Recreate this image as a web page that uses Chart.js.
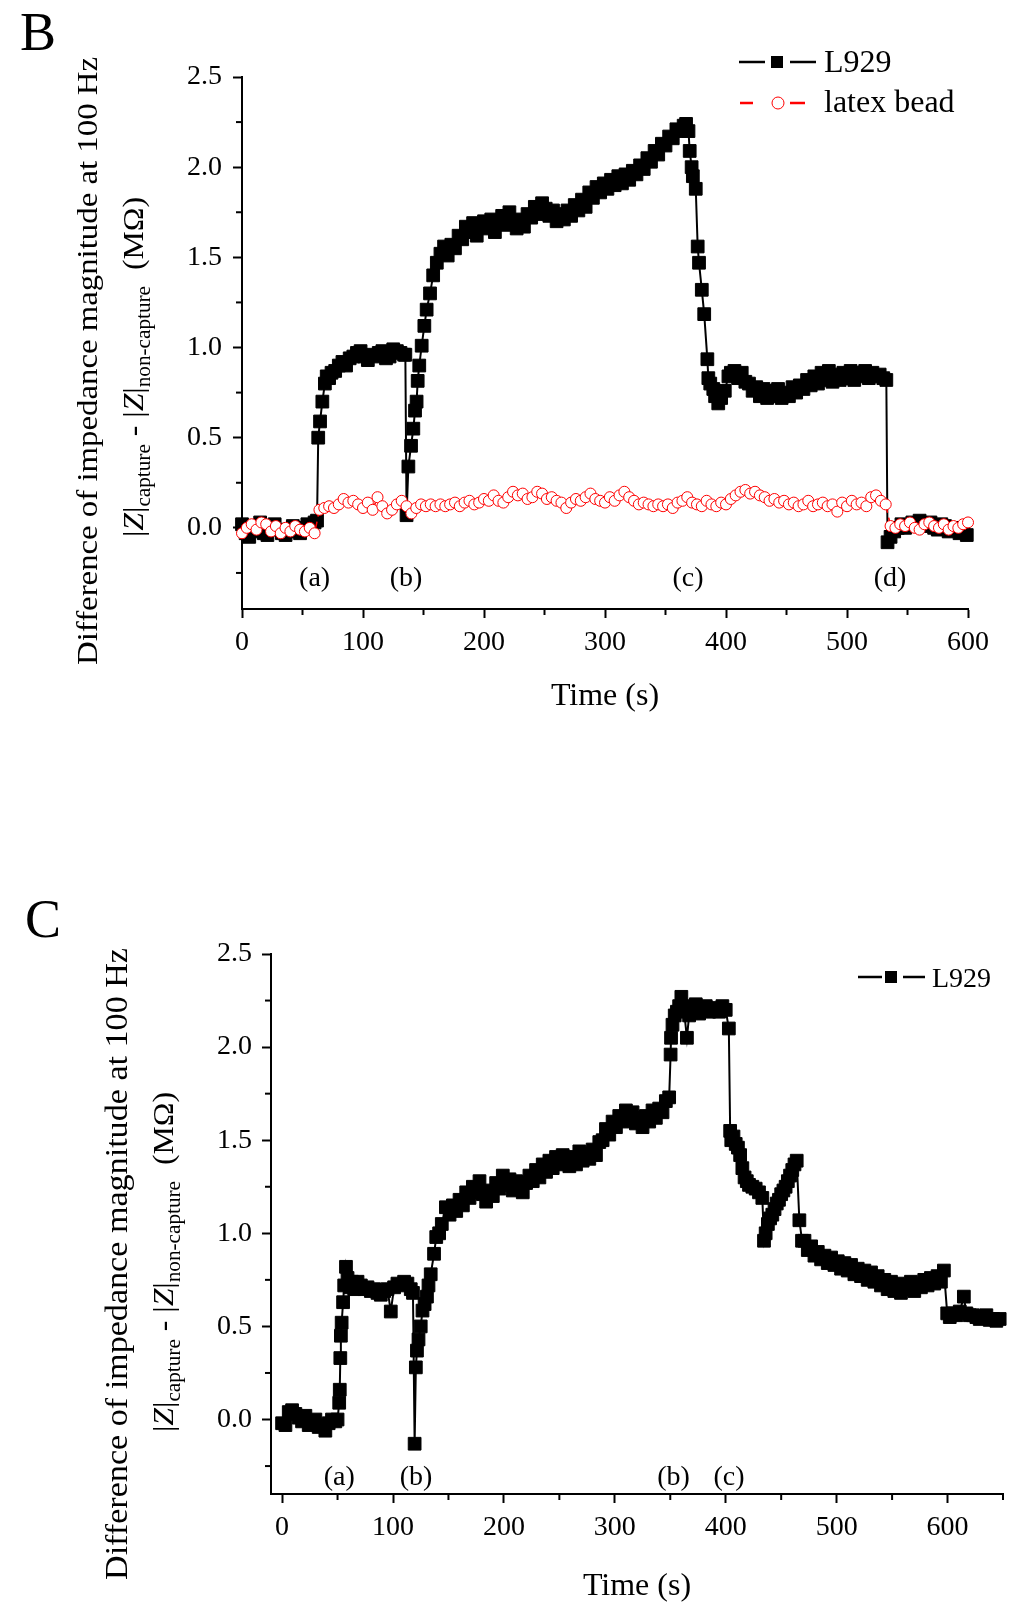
<!DOCTYPE html>
<html>
<head>
<meta charset="utf-8">
<script src="https://cdn.jsdelivr.net/npm/chart.js@4"></script>
<style>
  body { margin: 0; background: #fff; width: 1024px; height: 1610px; overflow: hidden; }
  canvas { position: absolute; left: 0; }
  #chartB { top: 0; }
  #chartC { top: 820px; }
</style>
</head>
<body>
<canvas id="chartB" width="1024" height="760"></canvas>
<canvas id="chartC" width="1024" height="790"></canvas>
<script>
// ---- panel B : L929 (s, MOhm)
var timeB = [0,3,6,9,12,15,18,21,24,27,30,33,36,39,42,45,48,51,54,57,60,
  62,63,64.5,66.4,68.5,70,72,74,77,80,83,86,89,92,95,98,101,104,107,110,113,116,119,122,125,128,131,134,135,
  136,137.5,139.7,141.6,143,144.3,145.2,146.5,148.5,150.7,152.6,155.4,158,161,
  164,167,170,173,176,179,182,185,188,191,194,197,200,203,206,209,212,215,218,221,224,227,230,233,236,239,
  242,245,248,251,254,257,260,263,266,269,272,275,278,281,284,287,290,293,296,299,302,305,308,311,314,317,
  320,323,326,329,332,335,338,341,344,347,350,353,356,359,362,365,
  367,369,370,371.6,372.6,375,
  376.6,377.7,380,382,384.6,385.4,387,389.5,391,393.6,396,399,
  402,404,407,410,413,416,419,422,425,428,431,434,437,440,443,446,449,452,455,458,461,464,467,470,473,476,
  479,482,485,488,491,494,497,500,503,506,509,512,515,518,521,524,527,530,
  532.5,533.5,
  536,539,542,545,548,551,554,557,560,563,566,569,572,575,578,581,584,587,590,593,596,599];
var l929B = [0.02,-0.03,-0.05,-0.02,0.01,0.03,-0.03,-0.04,0.0,0.02,-0.01,-0.03,-0.04,-0.01,0.01,-0.02,-0.03,0.0,0.02,0.01,0.03,
  0.04,0.50,0.59,0.70,0.80,0.84,0.83,0.86,0.87,0.90,0.92,0.90,0.94,0.95,0.97,0.98,0.95,0.93,0.96,0.95,0.97,0.98,0.94,0.95,0.99,0.98,0.97,0.96,0.96,
  0.07,0.34,0.455,0.55,0.65,0.70,0.815,0.90,1.01,1.12,1.21,1.30,1.40,1.47,
  1.52,1.56,1.51,1.57,1.55,1.62,1.60,1.67,1.64,1.69,1.62,1.67,1.70,1.66,1.71,1.64,1.69,1.73,1.68,1.75,1.69,1.66,1.71,1.67,1.74,1.72,
  1.78,1.74,1.80,1.77,1.73,1.76,1.70,1.74,1.71,1.76,1.73,1.79,1.76,1.82,1.78,1.86,1.83,1.89,1.86,1.91,1.88,1.93,1.90,1.95,1.91,1.96,
  1.93,1.98,1.96,2.01,1.99,2.05,2.03,2.09,2.07,2.13,2.12,2.17,2.16,2.21,2.20,2.23,
  2.24,2.20,2.09,2.00,1.95,1.88,
  1.56,1.47,1.32,1.185,0.935,0.83,0.80,0.77,0.73,0.69,0.72,0.76,
  0.84,0.86,0.87,0.83,0.86,0.81,0.80,0.76,0.78,0.73,0.77,0.72,0.76,0.73,0.77,0.72,0.75,0.73,0.78,0.75,0.79,0.77,0.82,0.79,0.84,0.80,
  0.86,0.82,0.87,0.81,0.85,0.82,0.86,0.83,0.87,0.82,0.86,0.84,0.87,0.83,0.86,0.84,0.85,0.83,
  0.82,-0.08,
  -0.05,-0.02,0.0,0.02,0.0,0.01,0.03,0.02,0.04,0.02,0.01,0.03,0.0,-0.01,0.02,0.01,-0.02,0.0,-0.01,-0.03,-0.02,-0.04];

// ---- panel B : latex bead
var timeLatex = [0,4,8,12,16,20,24,28,32,36,40,44,48,52,56,60,64,68,72,76,80,84,88,92,96,100,
  104,108,112,116,120,124,128,132,136,140,144,148,152,156,160,164,168,172,176,180,184,188,192,196,200,
  204,208,212,216,220,224,228,232,236,240,244,248,252,256,260,264,268,272,276,280,284,288,292,296,300,
  304,308,312,316,320,324,328,332,336,340,344,348,352,356,360,364,368,372,376,380,384,388,392,396,400,
  404,408,412,416,420,424,428,432,436,440,444,448,452,456,460,464,468,472,476,480,484,488,492,496,500,
  504,508,512,516,520,524,528,532,536,540,544,548,552,556,560,564,568,572,576,580,584,588,592,596,600];
var latexB = [-0.03,0.0,0.02,-0.01,0.03,0.02,-0.02,0.01,-0.03,0.0,-0.02,0.01,-0.01,-0.02,0.0,-0.03,0.10,0.11,0.12,0.11,0.13,0.16,0.14,0.15,0.13,0.11,
  0.14,0.10,0.17,0.12,0.08,0.10,0.13,0.15,0.12,0.08,0.11,0.13,0.12,0.13,0.12,0.13,0.12,0.13,0.14,0.12,0.14,0.15,0.13,0.14,0.16,
  0.15,0.18,0.15,0.14,0.17,0.20,0.18,0.19,0.16,0.17,0.20,0.19,0.16,0.17,0.15,0.14,0.11,0.14,0.16,0.15,0.17,0.19,0.16,0.15,0.14,
  0.17,0.15,0.18,0.20,0.17,0.15,0.13,0.14,0.13,0.12,0.13,0.12,0.13,0.11,0.14,0.15,0.17,0.14,0.13,0.12,0.15,0.13,0.12,0.14,0.13,
  0.16,0.18,0.20,0.21,0.19,0.20,0.18,0.17,0.15,0.16,0.14,0.15,0.13,0.14,0.12,0.13,0.15,0.12,0.13,0.14,0.12,0.13,0.09,0.14,0.12,
  0.15,0.13,0.14,0.12,0.17,0.18,0.15,0.13,0.01,0.0,0.02,0.01,0.03,0.0,-0.01,0.02,0.03,0.01,0.0,0.02,-0.01,0.01,0.0,0.02,0.03];

// ---- panel C : L929
var timeC = [0,3,6,9,12,15,18,21,24,27,30,33,36,39,42,45,48,50,
  51.5,52,52.5,53,53.7,55,56,57.6,59,61,63,65,68,71,74,77,80,83,86,89,92,95,98,101,104,107,110,113,116,118,
  119.5,120.6,121.6,123,125,126.6,128.5,130.6,132,134,137,139,141.6,144,147.7,
  151,154,157,160,163,166,169,172,175,178,181,184,187,190,193,196,199,202,205,208,211,214,217,220,223,226,
  229,232,235,238,241,244,247,250,253,256,259,262,265,268,271,274,277,280,283,286,289,292,295,298,301,304,
  307,310,313,316,319,322,325,328,331,334,337,340,343,346,349,
  350.3,350.7,352,354,356,358,360,362,365,367,370,373,376,379,382,385,388,391,394,397,400,402.8,
  404,405,407,409,411,413,415,417,419,421,424,427,430,433,
  434.5,436,438,440,442,444,446,448,450,452,454,456,458,460,462,464,
  466.4,468.8,471,474,477,480,483,486,489,492,495,498,501,504,507,510,513,516,519,522,525,528,531,534,537,
  540,543,546,549,552,555,558,561,564,567,570,573,576,579,582,585,588,591,594,596.7,
  599.7,602,605,608,611,614.7,617,620,623,626,629,632,635,638,641,644,647];
var l929C = [-0.02,-0.03,0.04,0.05,0.03,0.01,-0.01,0.02,-0.03,-0.02,0.0,-0.04,-0.03,-0.06,-0.02,0.0,-0.01,0.0,
  0.09,0.16,0.33,0.45,0.52,0.63,0.72,0.82,0.76,0.71,0.74,0.70,0.74,0.72,0.70,0.71,0.69,0.70,0.68,0.67,0.69,0.70,0.58,0.71,0.73,0.72,0.74,0.73,0.70,0.68,
  -0.13,0.28,0.37,0.43,0.50,0.585,0.62,0.66,0.72,0.78,0.89,0.98,1.00,1.05,1.14,
  1.10,1.15,1.12,1.18,1.15,1.22,1.19,1.25,1.22,1.28,1.21,1.17,1.23,1.20,1.27,1.24,1.31,1.26,1.29,1.23,1.28,1.24,1.22,1.27,1.31,1.28,
  1.34,1.30,1.37,1.33,1.39,1.35,1.41,1.37,1.42,1.38,1.36,1.41,1.37,1.44,1.39,1.43,1.40,1.45,1.42,1.49,1.50,1.56,1.53,1.60,1.57,1.63,
  1.60,1.66,1.61,1.65,1.59,1.62,1.57,1.63,1.60,1.66,1.62,1.67,1.65,1.71,1.73,
  1.96,2.05,2.12,2.17,2.19,2.22,2.27,2.22,2.05,2.17,2.19,2.23,2.18,2.21,2.22,2.19,2.20,2.21,2.19,2.22,2.20,2.10,
  1.55,1.50,1.52,1.48,1.46,1.42,1.35,1.30,1.28,1.26,1.25,1.24,1.22,1.19,
  0.96,1.00,1.05,1.08,1.10,1.13,1.16,1.18,1.21,1.23,1.25,1.28,1.31,1.34,1.37,1.39,
  1.07,0.96,0.96,0.91,0.93,0.88,0.90,0.86,0.88,0.84,0.87,0.83,0.85,0.81,0.84,0.80,0.83,0.78,0.81,0.77,0.80,0.75,0.79,0.74,0.77,
  0.72,0.75,0.70,0.74,0.69,0.73,0.68,0.72,0.70,0.74,0.69,0.73,0.71,0.75,0.72,0.76,0.73,0.77,0.74,0.80,
  0.57,0.55,0.57,0.56,0.58,0.66,0.57,0.56,0.56,0.55,0.54,0.55,0.56,0.535,0.54,0.53,0.54];

// ticks
var xTicksB = [0, 100, 200, 300, 400, 500, 600];
var xMinorB = [50, 150, 250, 350, 450, 550];
var xTicksC = [0, 100, 200, 300, 400, 500, 600];
var xMinorC = [50, 150, 250, 350, 450, 550, 650];
var yTicks = [0, 0.5, 1.0, 1.5, 2.0, 2.5];
var yMinor = [-0.25, 0.25, 0.75, 1.25, 1.75, 2.25];

// event marks under the curves
var marksB = ['(a)', '(b)', '(c)', '(d)'];
var marksBTime = [60, 135.5, 368.6, 535.5];
var marksC = ['(a)', '(b)', '(b)', '(c)'];
var marksCTime = [51.6, 120.7, 353, 403];

var SERIF = '"Liberation Serif", "Times New Roman", serif';
Chart.defaults.font.family = SERIF;
Chart.defaults.color = '#000';

function pts(xs, ys) {
  return xs.map(function (t, i) { return { x: t, y: ys[i] }; });
}

function fixSize(w, h) {
  return function (scale) {
    if (w) scale.width = w;
    if (h) scale.height = h;
  };
}

function useTicks(list) {
  return function (scale) {
    scale.ticks = list.map(function (v) { return { value: v }; });
  };
}

// rotated text built from pieces (for subscripts), stretched to a given length
function drawRich(ctx, segs, x, y, len) {
  var total = 0;
  segs.forEach(function (s) { ctx.font = s.font; s.w = ctx.measureText(s.text).width; total += s.w; });
  ctx.save();
  ctx.translate(x, y);
  ctx.rotate(-Math.PI / 2);
  if (len) ctx.scale(len / total, 1);
  ctx.textAlign = 'left';
  ctx.textBaseline = 'alphabetic';
  ctx.fillStyle = '#000';
  var cx = -total / 2;
  segs.forEach(function (s) {
    ctx.font = s.font;
    ctx.fillText(s.text, cx, s.dy || 0);
    cx += s.w;
  });
  ctx.restore();
}

function yTitleSegs(size) {
  var main = size + 'px ' + SERIF, ital = 'italic ' + size + 'px ' + SERIF, sub = '20px ' + SERIF;
  return [
    { text: '|', font: main }, { text: 'Z', font: ital }, { text: '|', font: main },
    { text: 'capture', font: sub, dy: 7 },
    { text: ' - ', font: main },
    { text: '|', font: main }, { text: 'Z', font: ital }, { text: '|', font: main },
    { text: 'non-capture', font: sub, dy: 7 },
    { text: '  (M\u03A9)', font: main }
  ];
}

var decor = {
  id: 'decor',
  afterDraw: function (chart, args, o) {
    var ctx = chart.ctx, xs = chart.scales.x, ys = chart.scales.y;
    ctx.save();
    ctx.strokeStyle = '#000';
    ctx.fillStyle = '#000';
    ctx.lineWidth = 2;
    // minor ticks
    o.xMinor.forEach(function (v) {
      var px = xs.getPixelForValue(v);
      ctx.beginPath(); ctx.moveTo(px, xs.top); ctx.lineTo(px, xs.top + 6); ctx.stroke();
    });
    yMinor.forEach(function (v) {
      var py = ys.getPixelForValue(v);
      ctx.beginPath(); ctx.moveTo(ys.right - 6, py); ctx.lineTo(ys.right, py); ctx.stroke();
    });
    // event marks
    ctx.font = '28px ' + SERIF;
    ctx.textAlign = 'center';
    ctx.textBaseline = 'middle';
    o.marks.forEach(function (m, i) {
      ctx.fillText(m, xs.getPixelForValue(o.markTime[i]), ys.getPixelForValue(o.markValue));
    });
    // panel letter
    ctx.textAlign = 'left';
    ctx.textBaseline = 'alphabetic';
    ctx.font = '54px ' + SERIF;
    ctx.fillText(o.letter, o.letterX, o.letterY);
    // x title
    ctx.textAlign = 'center';
    ctx.font = '32px ' + SERIF;
    ctx.fillText('Time (s)', (xs.left + xs.right) / 2, o.xTitleY);
    // y titles
    drawRich(ctx, [{ text: 'Difference of impedance magnitude at 100 Hz', font: o.y1Size + 'px ' + SERIF }], o.y1X, o.y1Y, o.y1Len);
    drawRich(ctx, yTitleSegs(30), o.y2X, o.y2Y, o.y2Len);
    // legend
    o.legend.forEach(function (it) {
      var ds = chart.data.datasets[it.ds];
      ctx.strokeStyle = ds.borderColor;
      ctx.lineWidth = 2.5;
      ctx.beginPath();
      ctx.moveTo(it.x1[0], it.y); ctx.lineTo(it.x1[1], it.y);
      ctx.moveTo(it.x2[0], it.y); ctx.lineTo(it.x2[1], it.y);
      ctx.stroke();
      if (ds.pointStyle === 'rect') {
        ctx.fillStyle = ds.pointBackgroundColor;
        ctx.fillRect(it.px - 6, it.y - 6, 12, 12);
      } else {
        ctx.fillStyle = '#fff';
        ctx.lineWidth = 1;
        ctx.beginPath(); ctx.arc(it.px, it.y, 6, 0, Math.PI * 2); ctx.fill(); ctx.stroke();
      }
      ctx.fillStyle = '#000';
      ctx.textAlign = 'left';
      ctx.font = it.size + 'px ' + SERIF;
      ctx.fillText(ds.label, it.tx, it.ty);
    });
    ctx.restore();
  }
};

function axes(xMin, xMax, xTicks, yMin, yWidth, xHeight, yPad) {
  return {
    x: {
      type: 'linear', min: xMin, max: xMax,
      afterFit: fixSize(0, xHeight),
      afterBuildTicks: useTicks(xTicks),
      grid: { drawOnChartArea: false, drawTicks: true, tickLength: 9, tickWidth: 2, tickColor: '#000' },
      border: { display: true, color: '#000', width: 2 },
      ticks: { font: { family: SERIF, size: 28 }, color: '#000', padding: 8, maxRotation: 0, autoSkip: false,
        callback: function (v) { return String(v); } }
    },
    y: {
      type: 'linear', min: yMin, max: 2.5,
      afterFit: fixSize(yWidth, 0),
      afterBuildTicks: useTicks(yTicks),
      grid: { drawOnChartArea: false, drawTicks: true, tickLength: 9, tickWidth: 2, tickColor: '#000' },
      border: { display: true, color: '#000', width: 2 },
      ticks: { font: { family: SERIF, size: 28 }, color: '#000', padding: yPad,
        callback: function (v) { return v.toFixed(1); } }
    }
  };
}

function l929Set(xs, ys, order) {
  return {
    label: 'L929', data: pts(xs, ys), order: order,
    borderColor: '#000', borderWidth: 2, tension: 0,
    pointStyle: 'rect', pointRadius: 9, pointBorderWidth: 1,
    pointBackgroundColor: '#000', pointBorderColor: '#000', clip: false
  };
}

new Chart(document.getElementById('chartB').getContext('2d'), {
  type: 'line',
  data: {
    datasets: [
      l929Set(timeB, l929B, 1),
      {
        label: 'latex bead', data: pts(timeLatex, latexB), order: 0,
        borderColor: '#ff0000', borderWidth: 1.5, borderDash: [6, 5], tension: 0,
        pointStyle: 'circle', pointRadius: 5.5, pointBorderWidth: 1,
        pointBackgroundColor: '#fff', pointBorderColor: '#ff0000', clip: false
      }
    ]
  },
  options: {
    responsive: false, animation: false, devicePixelRatio: 1, events: [],
    layout: { padding: { left: 0, top: 77, right: 56, bottom: 0 } },
    scales: axes(0, 600, xTicksB, -0.45, 242, 151, 11),
    plugins: {
      legend: { display: false }, tooltip: { enabled: false },
      decor: {
        xMinor: xMinorB, marks: marksB, markTime: marksBTime, markValue: -0.28,
        letter: 'B', letterX: 20, letterY: 50, xTitleY: 705,
        y1Size: 30, y1X: 97, y1Y: 361, y1Len: 608, y2X: 143, y2Y: 367, y2Len: 340,
        legend: [
          { ds: 0, x1: [739, 765], x2: [790, 816], px: 777, y: 62, tx: 824, ty: 72, size: 32 },
          { ds: 1, x1: [740, 753], x2: [790, 805], px: 778, y: 103, tx: 824, ty: 112, size: 32 }
        ]
      }
    }
  },
  plugins: [decor]
});

new Chart(document.getElementById('chartC').getContext('2d'), {
  type: 'line',
  data: { datasets: [l929Set(timeC, l929C, 0)] },
  options: {
    responsive: false, animation: false, devicePixelRatio: 1, events: [],
    layout: { padding: { left: 0, top: 134, right: 21, bottom: 0 } },
    scales: axes(-10, 650, xTicksC, -0.4, 271, 116, 10),
    plugins: {
      legend: { display: false }, tooltip: { enabled: false },
      decor: {
        xMinor: xMinorC, marks: marksC, markTime: marksCTime, markValue: -0.31,
        letter: 'C', letterX: 25, letterY: 117, xTitleY: 775,
        y1Size: 31, y1X: 127, y1Y: 444, y1Len: 632, y2X: 173, y2Y: 442, y2Len: 340,
        legend: [
          { ds: 0, x1: [858, 882], x2: [903, 925], px: 891, y: 157, tx: 932, ty: 167, size: 28 }
        ]
      }
    }
  },
  plugins: [decor]
});
</script>
</body>
</html>
